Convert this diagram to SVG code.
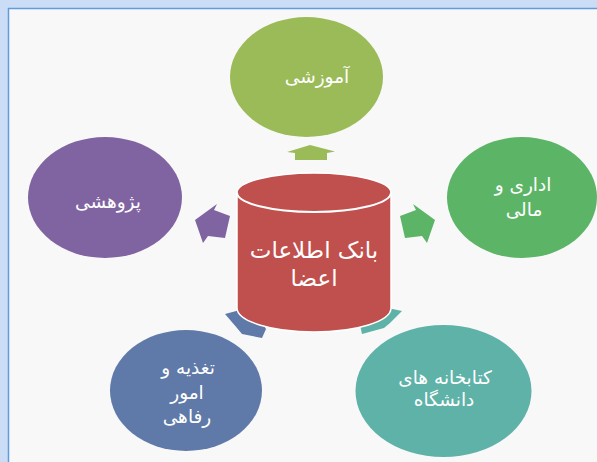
<svg xmlns="http://www.w3.org/2000/svg" width="597" height="462" viewBox="0 0 597 462">
<style>
.lbl{font-family:"DejaVu Sans","Noto Sans",sans-serif;font-size:18.5px;fill:#ffffff;text-anchor:middle;direction:rtl}
.big{font-family:"DejaVu Sans","Noto Sans",sans-serif;font-size:23px;fill:#ffffff;text-anchor:middle;direction:rtl}
</style>
<rect x="0" y="0" width="597" height="462" fill="#cadcf6"/>
<rect x="8.5" y="8.5" width="600" height="470" fill="#f8f8f8" stroke="#5f9cdc" stroke-width="1.5"/>
<g id="connectors">
<polygon points="310,145 335,151.5 327,153 327,160 295,160 295,153 287,152" fill="#9bbb59"/>
<polygon points="195,220 217,204 214,210 230,216 225,238 208,236 203,243" fill="#8064a2"/>
<polygon points="435,220 413,204 416,210 400,216 405,238 422,236 427,243" fill="#5cb567"/>
<polygon points="225,314 240,310 262,322 266,329 262,338 242,334 237,328" fill="#5f7aa8"/>
<polygon points="402,311 388,308 370,318 360,325 362,334 384,328 390,323" fill="#5fb2a8"/>
</g>
<g id="center">
<path d="M237,192.5 A77,19.5 0 0 1 391,192.5 L391,308 A77,24 0 0 1 237,308 Z" fill="#c0504d" stroke="#ffffff" stroke-width="1.5"/>
<path d="M237,192.5 A77,19.5 0 0 0 391,192.5" fill="none" stroke="#ffffff" stroke-width="2"/>
<text class="big" x="314" y="258">بانک اطلاعات</text>
<text class="big" x="314" y="286">اعضا</text>
</g>
<g id="n-amoozeshi">
<ellipse cx="306.5" cy="77" rx="76.5" ry="60" fill="#9bbb59"/>
<text class="lbl" x="317" y="83">آموزشی</text>
</g>
<g id="n-pazhooheshi">
<ellipse cx="105" cy="197.5" rx="77" ry="60.5" fill="#8064a2"/>
<text class="lbl" x="108" y="208">پژوهشی</text>
</g>
<g id="n-edari">
<ellipse cx="522" cy="197.5" rx="75" ry="60.5" fill="#5cb567"/>
<text class="lbl" x="523" y="191">اداری و</text>
<text class="lbl" x="524" y="216">مالی</text>
</g>
<g id="n-taghzieh">
<ellipse cx="186" cy="390.5" rx="76" ry="60.5" fill="#5f7aa8"/>
<text class="lbl" x="188" y="374">تغذیه و</text>
<text class="lbl" x="187" y="399">امور</text>
<text class="lbl" x="187" y="423">رفاهی</text>
</g>
<g id="n-ketabkhaneh">
<ellipse cx="443.5" cy="391" rx="88" ry="66" fill="#5fb2a8"/>
<text class="lbl" x="445" y="384">کتابخانه های</text>
<text class="lbl" x="444" y="406">دانشگاه</text>
</g>
</svg>
